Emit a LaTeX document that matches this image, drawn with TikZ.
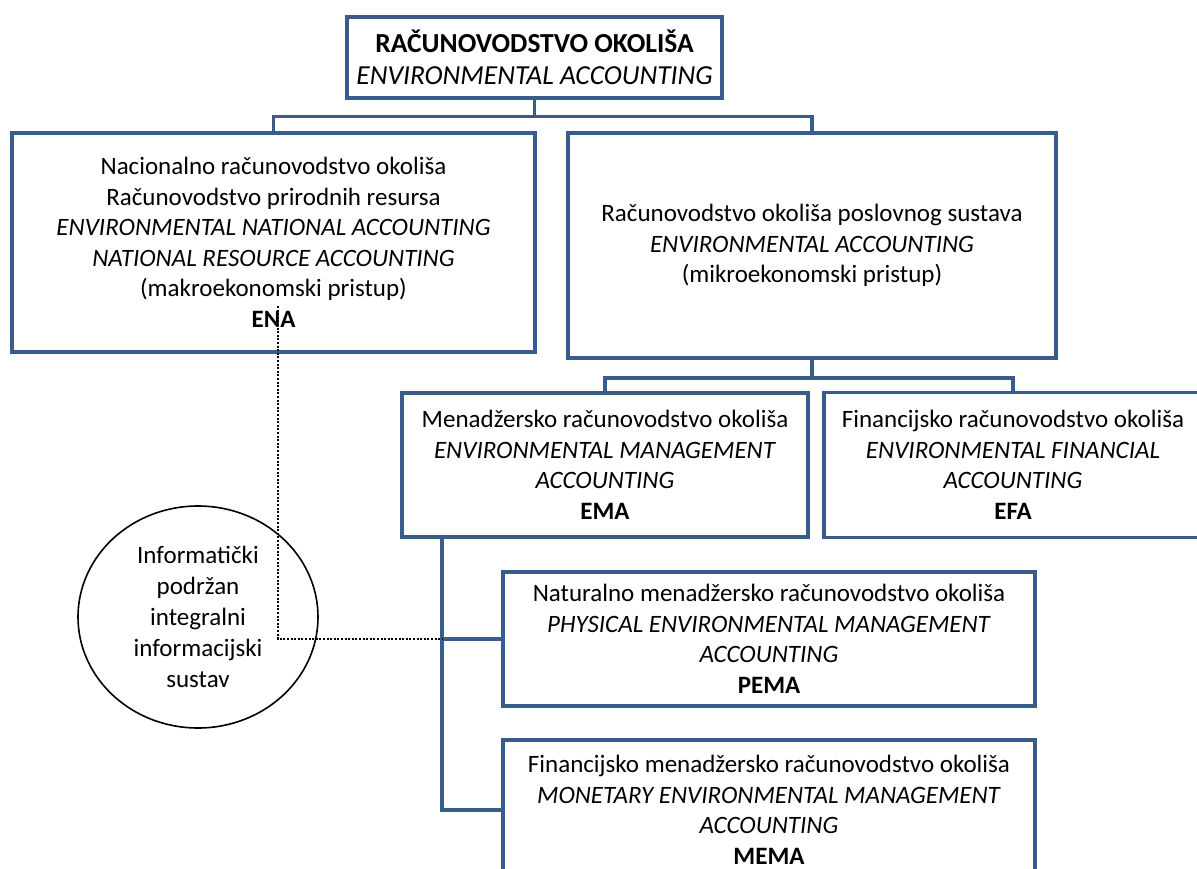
\documentclass[tikz,border=0pt]{standalone}
\usepackage{fontspec}
\setmainfont{Carlito}
\usetikzlibrary{shapes.geometric}
\definecolor{boxblue}{RGB}{56,93,138}
\tikzset{
  box/.style={draw=boxblue, line width=3.5pt, rectangle, inner sep=0pt, align=center,
    font=\fontsize{25}{30.5}\selectfont},
  link/.style={draw=boxblue, line width=3.5pt},
  dotline/.style={line width=2.4pt, dash pattern=on 2pt off 1.6pt},
}
\begin{document}
\begin{tikzpicture}[x=1pt,y=1pt,yscale=-1,xscale=1]
        \useasboundingbox (0,0) rectangle (1197,869);
        \clip (0,0) rectangle (1197,869);
        %Shape: Rectangle [top]
        \node [box, minimum width=375, minimum height=81, font=\fontsize{27.5}{32}\selectfont] (top) at (534.5,57.5)
          {\textbf{RAČUNOVODSTVO OKOLIŠA}\\\textit{ENVIRONMENTAL ACCOUNTING}};
        %Shape: Rectangle [ena]
        \node [box, minimum width=523, minimum height=219] (ena) at (273.5,242.5)
          {Nacionalno računovodstvo okoliša\\Računovodstvo prirodnih resursa\\
           \textit{ENVIRONMENTAL NATIONAL ACCOUNTING}\\\textit{NATIONAL RESOURCE ACCOUNTING}\\
           (makroekonomski pristup)\\\textbf{ENA}};
        %Shape: Rectangle [business]
        \node [box, minimum width=488, minimum height=225] (biz) at (812,245.5)
          {Računovodstvo okoliša poslovnog sustava\\\textit{ENVIRONMENTAL ACCOUNTING}\\(mikroekonomski pristup)};
        %Shape: Rectangle [ema]
        \node [box, minimum width=406, minimum height=144] (ema) at (605,465)
          {Menadžersko računovodstvo okoliša\\\textit{ENVIRONMENTAL MANAGEMENT}\\\textit{ACCOUNTING}\\\textbf{EMA}};
        %Shape: Rectangle [efa]
        \node [box, minimum width=378, minimum height=145] (efa) at (1013,465)
          {Financijsko računovodstvo okoliša\\\textit{ENVIRONMENTAL FINANCIAL}\\\textit{ACCOUNTING}\\\textbf{EFA}};
        %Shape: Rectangle [pema]
        \node [box, minimum width=532, minimum height=134] (pema) at (769,639)
          {Naturalno menadžersko računovodstvo okoliša\\\textit{PHYSICAL ENVIRONMENTAL MANAGEMENT}\\\textit{ACCOUNTING}\\\textbf{PEMA}};
        %Shape: Rectangle [mema]
        \node [box, minimum width=532, minimum height=140] (mema) at (769,810)
          {Financijsko menadžersko računovodstvo okoliša\\\textit{MONETARY ENVIRONMENTAL MANAGEMENT}\\\textit{ACCOUNTING}\\\textbf{MEMA}};
        %Shape: Ellipse [info]
        \node [draw, ellipse, line width=1.6pt, inner sep=0pt, minimum width=240, minimum height=222,
          align=center, font=\fontsize{25}{31}\selectfont] (info) at (198,617)
          {Informatički\\podržan\\integralni\\informacijski\\sustav};
        %Straight Lines [tree]
        \draw [link] (top.south) -- ++(0,17) -| (ena.north);
        \draw [link] (top.south) -- ++(0,17) -| (biz.north);
        \draw [link] (biz.south) -- ++(0,18) -| (ema.north);
        \draw [link] (biz.south) -- ++(0,18) -| (efa.north);
        \coordinate (trunk) at (442,537);
        \draw [link] (trunk) |- (pema.west);
        \draw [link] (trunk) |- (mema.west);
        %Straight Lines [dotted]
        \coordinate (enadot) at (278,306);
        \draw [dotline] (enadot) |- (trunk |- pema.west);
\end{tikzpicture}
\end{document}
